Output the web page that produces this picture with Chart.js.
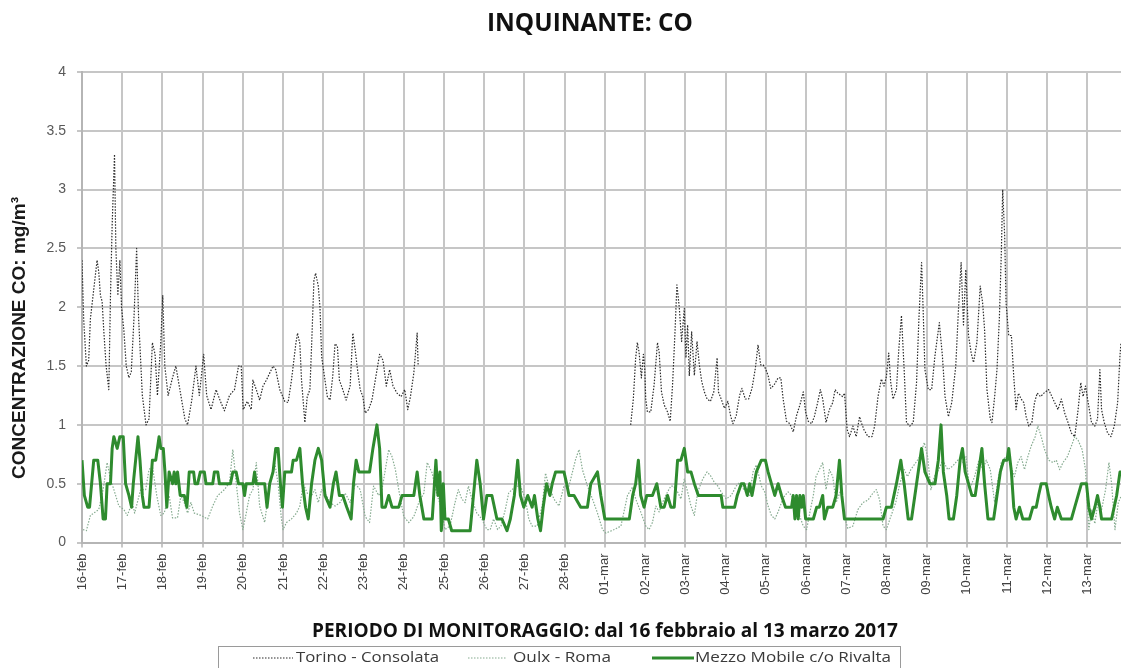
<!DOCTYPE html>
<html>
<head>
<meta charset="utf-8">
<script src="https://cdn.jsdelivr.net/npm/chart.js@4.4.1/dist/chart.umd.min.js"></script>
<style>
  html, body { margin: 0; padding: 0; background: #ffffff; }
  canvas { display: block; }
</style>
</head>
<body>
<canvas id="c" width="1121" height="668"></canvas>
<script>
// ---- Data (hours counted from 16-feb 00:00) ----
const dayLabels = ['16-feb','17-feb','18-feb','19-feb','20-feb','21-feb','22-feb','23-feb','24-feb','25-feb','26-feb','27-feb','28-feb',
  '01-mar','02-mar','03-mar','04-mar','05-mar','06-mar','07-mar','08-mar','09-mar','10-mar','11-mar','12-mar','13-mar'];

const yTicks = [0, 0.5, 1, 1.5, 2, 2.5, 3, 3.5, 4];

const torinoHours = [0,1,2.6,4,5,7,9,10,11,12,13,14.4,16,17,18,19.4,20.2,21.4,22.6,23.6,25,26.4,28,29.4,31,32.6,33.8,36,38.2,40,42,43.6,45,47,48.2,49.4,51.4,54,56,58.4,61.4,63,65.4,68,70,72.6,74.4,77,80,82.6,85,88,91,93.4,95,96.2,98.6,101,102,104,106,108,110,112,114,115.6,118,121,123,125,127.6,128.6,130,131,133,134.4,136,137,138.4,139.4,141,142,143,144.4,146.4,148,149.6,151,152.4,153.6,155.6,157.6,160,161.6,163,164.4,166,167.6,169,171,173,175,177.6,179.6,181.6,183.6,185.6,188,190.4,192.6,194.4,196,198,200,200.6,201,
  327.4,329,330.4,331.4,332.4,333.8,335,335.8,336.4,337.4,339.4,341.4,343.4,344.4,345.8,347.4,349.4,351,352.4,353.8,355,356.4,357.8,359.4,360.4,361.4,362.4,363.8,365.4,367,368.4,369.8,371.4,373,375,377,379,379.8,381.4,383.4,385.4,387,388.4,390.4,392.4,393.8,395.8,397.8,399.8,401.8,403.4,405,406.4,407.8,409.4,411,413,415.4,417,418.4,420.4,422.4,424.4,426.4,428.4,430.4,431.8,433.4,435.4,437,439,440.6,442,444,446,448,449.4,451,454,455,456.6,458,460,462,464,465,466.6,469,471.4,473,475,477,478.6,480,481.4,482.6,484,486,487.4,489,490.6,492,494,496,498,499.4,501,502,503,505,507,509,511.6,513.4,515,517,519,521.4,523,524.6,526,527.4,529,530.6,532,534,536,537.4,538.6,540,542,543,544.6,546,547.4,548.6,549.4,550.6,551.4,553,554.6,556,557.4,558.8,560.4,562,563.4,565,566.8,568.4,570,572,574,576.8,578.8,580.4,582.4,584.4,586.4,588.4,590.4,592.4,594.4,596,597.4,598.8,600.4,602.4,604.4,606,607.4,608.4,610,612,614,616,618,619.4,620];
const torinoValues = [2.4,1.9,1.5,1.55,1.9,2.15,2.4,2.3,2.1,2.05,1.8,1.5,1.3,2.1,2.7,3.3,2.5,2.1,2.4,2.0,1.8,1.5,1.4,1.45,1.9,2.5,1.9,1.25,1.0,1.05,1.7,1.6,1.25,1.7,2.1,1.5,1.25,1.4,1.5,1.3,1.05,1.0,1.2,1.5,1.25,1.6,1.25,1.13,1.3,1.2,1.12,1.25,1.3,1.5,1.5,1.13,1.2,1.13,1.38,1.3,1.21,1.33,1.38,1.44,1.5,1.47,1.3,1.2,1.19,1.38,1.69,1.78,1.69,1.38,1.02,1.24,1.3,1.67,2.23,2.29,2.18,2.0,1.58,1.44,1.24,1.21,1.41,1.69,1.67,1.38,1.3,1.21,1.33,1.78,1.64,1.47,1.3,1.24,1.1,1.13,1.21,1.38,1.6,1.55,1.33,1.47,1.33,1.27,1.24,1.3,1.13,1.24,1.44,1.78,1.5,null,
  1.0,1.22,1.57,1.7,1.62,1.4,1.6,1.48,1.22,1.11,1.11,1.34,1.7,1.62,1.28,1.17,1.11,1.03,1.34,1.77,2.19,2.0,1.71,1.99,1.57,1.85,1.42,1.79,1.42,1.71,1.51,1.37,1.28,1.22,1.2,1.28,1.57,1.28,1.22,1.14,1.2,1.08,1.01,1.08,1.25,1.31,1.22,1.22,1.31,1.48,1.68,1.51,1.51,1.48,1.42,1.31,1.34,1.4,1.4,1.22,1.03,1.01,0.94,1.08,1.17,1.28,1.11,1.03,1.01,1.07,1.19,1.3,1.22,1.02,1.13,1.19,1.3,1.27,1.24,1.27,0.96,0.9,0.99,0.9,1.07,1.02,0.96,0.9,0.9,0.99,1.24,1.39,1.33,1.41,1.61,1.36,1.22,1.3,1.64,1.93,1.47,1.02,0.99,1.02,1.36,1.9,2.38,1.95,1.47,1.3,1.3,1.59,1.87,1.59,1.24,1.07,1.19,1.5,1.98,2.38,1.85,2.32,1.76,1.61,1.53,1.7,2.18,2.04,1.81,1.3,1.05,1.02,1.24,1.47,1.9,2.47,3.0,2.6,2.04,1.76,1.76,1.41,1.13,1.27,1.22,1.19,1.07,0.99,1.02,1.19,1.27,1.24,1.27,1.3,1.24,1.19,1.13,1.22,1.1,1.02,0.93,0.9,1.13,1.36,1.24,1.33,1.19,1.02,0.99,1.05,1.47,1.13,1.02,0.93,0.9,0.99,1.19,1.59,1.7];

const oulxHours = [0.6,2.6,5,7,10,12.6,15,17,19,22,25,27,30,31.4,35,38,40,42,44.6,47,49,52,54,57,59,61,63,65,67,71,75,78,81,85,88,90,92,94,96,98,100,102,104,106,109,112,115,117,119,120,122,125,128,130,132,134.4,137,139,141,143,145,148,151,154,157,160,163,166,169,171.6,174,177,179,181,183,185,187,189,192,195,198,201,204,206,209,211,214,216.6,219.6,222.6,224.6,226.6,228.6,230.6,232.6,235.6,238.6,241.6,243.6,245.6,248,250,252.6,254.6,256.6,259.2,261.6,264.6,266.6,268.6,271.6,274.6,276.6,278.6,281.6,284.6,287.6,290.6,294.6,296.6,298.6,301.6,304.6,307.6,310.6,312.6,317.6,321.6,325.5,328.5,330.4,333.4,336.4,338.4,340.4,342.4,344.4,346.4,349.4,351.4,353,355.4,357.4,359.4,361.4,363.4,365.4,367.4,370.4,373,375,377.4,379.4,381.4,384.4,387.4,390.4,392.4,394.4,396.4,398.4,400.4,402.4,405.4,407.4,409.4,411.4,413.4,415.4,417.4,419.4,421.4,423.4,425.4,427.4,430.4,432.4,434.4,436.4,438,440,442,444,446,448,450,453,455,457,460,463,466,469,472,474,476,478,480,482.6,485.6,488,490.6,492.6,494.6,497.6,500,502.6,504.6,506.6,508.6,511.2,513.6,516.6,519.6,522.6,525.6,527.6,529.6,532.6,535.2,537.6,539.6,542,544.6,546.6,548.6,551.2,553.6,556.4,558.4,560.4,562.4,564.4,566.4,568.8,570.4,572.4,574.4,576.8,579.4,581.4,583.4,585.4,588,590.4,592.4,594.4,596.8,598.8,600.8,602.4,604.4,606.4,608.4,610.8,612.8,614.4,616.4,618.4,620];
const oulxValues = [0.11,0.1,0.23,0.25,0.28,0.45,0.68,0.54,0.45,0.31,0.28,0.23,0.34,0.25,0.45,0.45,0.62,0.65,0.4,0.23,0.25,0.4,0.21,0.21,0.4,0.34,0.25,0.34,0.25,0.23,0.2,0.31,0.4,0.45,0.51,0.79,0.51,0.25,0.11,0.25,0.4,0.45,0.68,0.31,0.17,0.5,0.68,0.5,0.2,0.11,0.17,0.2,0.25,0.31,0.5,0.42,0.4,0.45,0.34,0.45,0.42,0.34,0.31,0.34,0.42,0.34,0.5,0.45,0.22,0.17,0.48,0.4,0.45,0.62,0.79,0.73,0.62,0.45,0.22,0.17,0.22,0.34,0.42,0.68,0.59,0.45,0.31,0.11,0.14,0.34,0.45,0.37,0.34,0.48,0.37,0.25,0.2,0.11,0.11,0.2,0.11,0.14,0.28,0.42,0.45,0.48,0.48,0.37,0.2,0.14,0.14,0.31,0.59,0.48,0.37,0.31,0.48,0.48,0.71,0.79,0.62,0.48,0.37,0.25,0.11,0.08,0.11,0.14,0.4,0.47,0.37,0.26,0.14,0.11,0.17,0.31,0.26,0.34,0.43,0.48,0.48,0.43,0.37,0.54,0.43,0.31,0.23,0.43,0.54,0.6,0.57,0.51,0.48,0.43,0.37,0.4,0.48,0.51,0.46,0.43,0.4,0.6,0.66,0.48,0.43,0.31,0.23,0.2,0.26,0.34,0.4,0.43,0.4,0.34,0.26,0.14,0.11,0.26,0.4,0.56,0.62,0.68,0.45,0.62,0.56,0.34,0.45,0.22,0.12,0.14,0.28,0.34,0.36,0.42,0.45,0.36,0.14,0.11,0.22,0.34,0.5,0.62,0.56,0.62,0.68,0.73,0.85,0.73,0.45,0.56,0.62,0.7,0.62,0.65,0.7,0.68,0.73,0.45,0.56,0.7,0.62,0.7,0.62,0.34,0.53,0.68,0.73,0.68,0.56,0.68,0.73,0.62,0.73,0.82,0.9,0.99,0.9,0.79,0.7,0.68,0.7,0.62,0.68,0.73,0.82,0.9,0.87,0.79,0.62,0.11,0.28,0.16,0.36,0.28,0.45,0.68,0.5,0.11,0.34,0.39];

const mezzoHours = [0,1.4,3.4,4.5,7,9.4,11,12.6,14,15,17,18,19,21,22.6,24.6,26,28,29.6,30.6,32,33.4,34.6,36,37,40,42,44,46,47,48.5,49.5,50.6,52,54,55,56,57,58.6,61,62.6,64,66.6,67.4,69,70.6,73,74,78,79,81,82,88.6,90,92,93.4,96,97,98,102,103,104,107,109,110.4,112,114,115.6,117,118.4,119.6,121,125,126,128,130,131.6,133.4,135,137,139,141,143,145,148,150,151.6,153.6,155.6,158,160.6,162,163.6,165.2,171.6,173.6,176,177.6,179,181,183,185,189,191,198,200,201.6,204,209,211.2,212.4,213.6,214.4,215,215.6,216.6,218.6,220.6,231.6,233.6,235.6,237.6,239.6,241.6,244.6,247.6,250.6,253.6,255.6,258,260,261.6,263.6,266,268.6,270,272,273.6,275.2,277.2,279.2,280.6,282.6,287.6,289.2,290.6,293.6,297.6,301.6,303.6,307.6,309.6,312,326.6,328.6,330.4,332,333.4,335.4,337,340.4,343,345.4,347.4,349.4,351.4,353.4,355.4,357.4,359.4,361.4,363.4,365.4,367.8,381.4,382.4,389.4,391,393.4,395,397,398.4,399.8,402.4,405.4,407.8,409.4,411.4,413.4,415.4,417.4,419.8,423.4,424.4,425.4,426.4,427.4,428.4,429.4,430.4,431.8,436.4,438.4,440,442,443,445,448,450,452,453.4,455,478,480,483,486,488.6,490.6,493,495,497,499,501,503,506,509,511,512.6,514,516,517.4,520,522,524,525.4,527,529,531,533,535,537,538.6,540.6,544,546,548,550,552,553,554.6,556,557.4,559.4,561.4,565.4,567.4,569.4,570.8,572.4,575.4,576.8,578.4,580.4,582,584.4,590.4,592.4,594.4,596.4,599.4,600.8,602.4,604.4,606,607.4,608.4,614.4,617.4,619.4,620];
const mezzoValues = [0.7,0.4,0.3,0.3,0.7,0.7,0.5,0.2,0.2,0.5,0.5,0.8,0.9,0.8,0.9,0.9,0.5,0.4,0.3,0.5,0.7,0.9,0.7,0.4,0.3,0.3,0.7,0.7,0.9,0.8,0.8,0.6,0.3,0.6,0.5,0.6,0.5,0.6,0.4,0.4,0.3,0.6,0.6,0.5,0.5,0.6,0.6,0.5,0.5,0.6,0.6,0.5,0.5,0.6,0.6,0.5,0.5,0.4,0.5,0.5,0.6,0.5,0.5,0.5,0.3,0.5,0.6,0.8,0.8,0.5,0.3,0.6,0.6,0.7,0.7,0.8,0.5,0.3,0.2,0.5,0.7,0.8,0.7,0.4,0.3,0.5,0.6,0.4,0.4,0.3,0.2,0.5,0.7,0.6,0.6,0.8,1.0,0.8,0.3,0.3,0.4,0.3,0.3,0.4,0.4,0.6,0.4,0.2,0.2,0.7,0.4,0.6,0.1,0.2,0.5,0.2,0.2,0.1,0.1,0.4,0.7,0.5,0.2,0.4,0.4,0.2,0.2,0.1,0.2,0.4,0.7,0.4,0.3,0.4,0.3,0.4,0.2,0.1,0.3,0.5,0.4,0.5,0.6,0.6,0.5,0.4,0.4,0.3,0.3,0.5,0.6,0.4,0.2,0.2,0.4,0.5,0.7,0.4,0.3,0.4,0.4,0.5,0.3,0.3,0.4,0.3,0.3,0.7,0.7,0.8,0.6,0.6,0.5,0.4,0.4,0.3,0.3,0.4,0.5,0.5,0.4,0.5,0.4,0.6,0.7,0.7,0.6,0.5,0.4,0.5,0.4,0.3,0.3,0.4,0.2,0.4,0.2,0.4,0.3,0.4,0.2,0.2,0.3,0.3,0.4,0.2,0.3,0.3,0.4,0.7,0.4,0.2,0.2,0.3,0.3,0.5,0.7,0.5,0.2,0.2,0.4,0.6,0.8,0.6,0.5,0.5,0.7,1.0,0.6,0.4,0.2,0.2,0.4,0.7,0.8,0.6,0.5,0.4,0.4,0.6,0.8,0.5,0.2,0.2,0.4,0.6,0.7,0.7,0.8,0.6,0.3,0.2,0.3,0.2,0.2,0.3,0.3,0.4,0.5,0.5,0.4,0.3,0.2,0.3,0.2,0.2,0.3,0.4,0.5,0.5,0.3,0.2,0.3,0.4,0.3,0.2,0.2,0.4,0.6,0.6];

const seriesNames = ['Torino - Consolata', 'Oulx - Roma', 'Mezzo Mobile c/o Rivalta'];
const titleText = 'INQUINANTE: CO';
const xTitleText = 'PERIODO DI MONITORAGGIO: dal 16 febbraio al 13 marzo 2017';
const yTitleText = 'CONCENTRAZIONE CO: mg/m³';

// ---- helpers ----
function pairs(hours, values) { return hours.map((h, i) => ({ x: h, y: values[i] })); }

function fitText(ctx, text, x, y, targetW, align) {
  const w = ctx.measureText(text).width;
  const s = targetW / w;
  ctx.save();
  ctx.translate(x, y);
  ctx.scale(s, 1);
  ctx.textAlign = align || 'left';
  ctx.fillText(text, 0, 0);
  ctx.restore();
}

const decorPlugin = {
  id: 'decor',
  beforeDraw(chart) {
    const c = chart.ctx;
    c.save();
    c.fillStyle = '#ffffff';
    c.fillRect(0, 0, chart.width, chart.height);
    c.restore();
  },
  afterDraw(chart) {
    const c = chart.ctx;
    const ds = chart.data.datasets;
    c.save();
    // main title
    c.fillStyle = '#111111';
    c.textBaseline = 'alphabetic';
    c.font = 'bold 25px "Open Sans"';
    fitText(c, titleText, 590, 31, 206, 'center');
    // x axis title
    c.font = 'bold 19px "Open Sans"';
    fitText(c, xTitleText, 605, 637, 586, 'center');
    // y axis title
    c.save();
    c.translate(25, 338);
    c.rotate(-Math.PI / 2);
    c.font = 'bold 19px "Liberation Sans"';
    c.fillStyle = '#1a1a1a';
    fitText(c, yTitleText, 0, 0, 282, 'center');
    c.restore();
    // legend box
    c.strokeStyle = '#9a9a9a';
    c.lineWidth = 1;
    c.strokeRect(218.5, 646.5, 682, 40);
    const ly = 658;
    const items = [
      { x0: 253, x1: 293, tx: 296, tw: 143 },
      { x0: 468, x1: 506, tx: 513, tw: 98 },
      { x0: 652, x1: 694, tx: 695, tw: 196 }
    ];
    items.forEach((it, i) => {
      const d = ds[i];
      c.save();
      c.strokeStyle = d.borderColor;
      c.lineWidth = d.borderWidth;
      c.setLineDash(d.borderDash || []);
      c.beginPath();
      c.moveTo(it.x0, ly);
      c.lineTo(it.x1, ly);
      c.stroke();
      c.restore();
      c.fillStyle = '#3a3a3a';
      c.font = '15px "Open Sans"';
      c.textBaseline = 'middle';
      fitText(c, d.label, it.tx, ly, it.tw, 'left');
    });
    c.restore();
  }
};

const gridColor = '#c6c6c6';

new Chart(document.getElementById('c'), {
  type: 'line',
  data: {
    datasets: [
      { label: seriesNames[0], data: pairs(torinoHours, torinoValues), borderColor: '#2b2b2b', borderWidth: 1.2, borderDash: [1.5, 1.5], spanGaps: false, order: 3 },
      { label: seriesNames[1], data: pairs(oulxHours, oulxValues), borderColor: '#86ab90', borderWidth: 1.2, borderDash: [1.5, 1.5], order: 2 },
      { label: seriesNames[2], data: pairs(mezzoHours, mezzoValues), borderColor: '#2e8b2e', borderWidth: 3, order: 1 }
    ]
  },
  options: {
    responsive: false,
    animation: false,
    events: [],
    layout: { padding: { top: 72, left: 0, right: 0, bottom: 0 } },
    elements: { point: { radius: 0 }, line: { tension: 0, borderJoinStyle: 'round' } },
    plugins: { legend: { display: false }, title: { display: false }, tooltip: { enabled: false } },
    scales: {
      x: {
        type: 'linear', min: 0, max: 620,
        afterFit(s) { s.height = 125.5; },
        grid: { color: gridColor, lineWidth: 2, tickLength: 5, drawTicks: true, tickColor: gridColor },
        border: { color: '#b5b5b5', width: 2 },
        ticks: {
          stepSize: 24, includeBounds: false, autoSkip: false, maxRotation: 90, minRotation: 90, padding: 6,
          color: '#404040', font: { family: '"Liberation Sans"', size: 13 },
          callback: (v) => dayLabels[Math.round(v / 24)]
        }
      },
      y: {
        min: 0, max: 4,
        afterFit(s) { s.width = 82; },
        afterBuildTicks(s) { s.ticks = yTicks.map(v => ({ value: v })); },
        grid: { color: gridColor, lineWidth: 2, tickLength: 5, tickColor: gridColor },
        border: { color: '#b5b5b5', width: 2 },
        ticks: {
          padding: 11, color: '#595959', font: { family: '"Liberation Sans"', size: 14 },
          callback: (v) => String(v)
        }
      }
    }
  },
  plugins: [decorPlugin]
});
</script>
</body>
</html>
